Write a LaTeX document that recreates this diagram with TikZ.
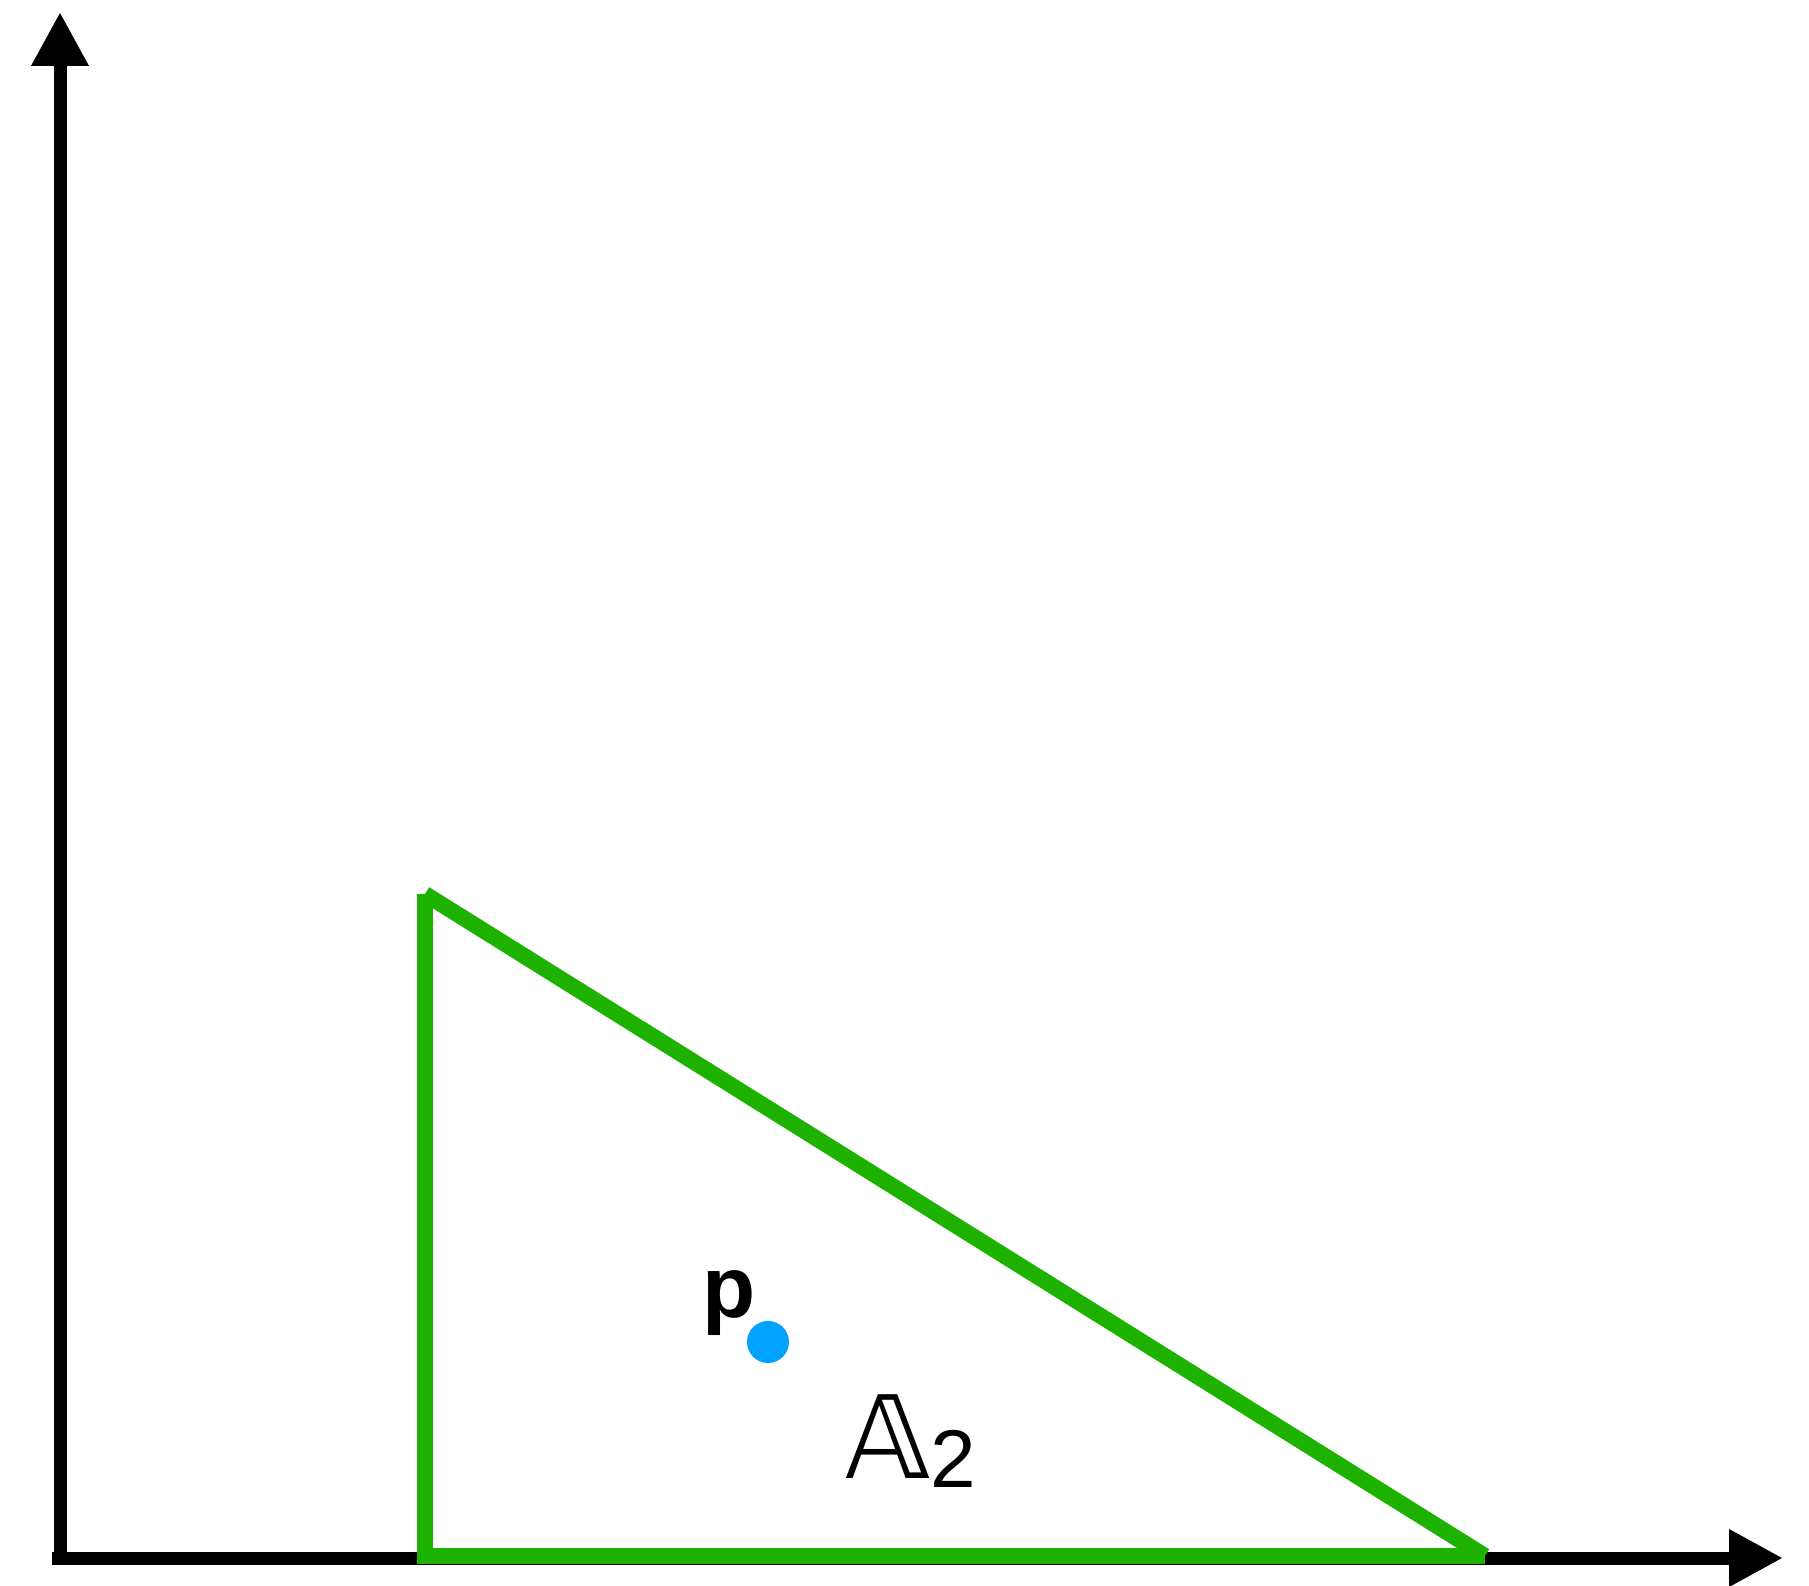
\documentclass[tikz,border=0pt]{standalone}
\usepackage{fontspec}
\setmainfont{Liberation Sans}
\newfontfamily\dvfont{DejaVu Sans}
\usetikzlibrary{arrows.meta}
\definecolor{trigreen}{RGB}{29,177,0}
\definecolor{ptblue}{RGB}{0,162,255}
\tikzset{
  axis/.style={line width=13pt, -{Triangle[length=54pt,width=54pt]}},
  edge/.style={line width=16pt, trigreen, line join=miter},
  lbl/.style={inner sep=0pt, outer sep=0pt, anchor=base west}
}
\begin{document}
\begin{tikzpicture}[x=1pt,y=-1pt]
\useasboundingbox (0,0) rectangle (1809,1586);
% axes
\coordinate (xs) at (52,1558);
\coordinate (xe) at (1783,1558);
\coordinate (ys) at (60,1565);
\coordinate (ye) at (60,12);
\draw[axis] (ys) -- (ye);
\draw[axis] (xs) -- (xe);
% triangle
\coordinate (A) at (425,894);
\coordinate (B) at (425,1556);
\coordinate (C) at (1485,1556);
\draw[edge] (A) -- (B) -- (C);
\draw[edge] (A) -- (C);
% point p
\fill[ptblue] (768,1342) circle[radius=21pt] coordinate (pp);
\node[lbl] (plabel) at (702,1317) {\fontsize{87}{90}\selectfont\bfseries p};
% label A2
\node[lbl] (alabel) at (845,1478) {{\fontsize{115}{120}\selectfont\dvfont 𝔸}{\fontsize{82}{90}\selectfont\raisebox{-9pt}{2}}};
\end{tikzpicture}
\end{document}
